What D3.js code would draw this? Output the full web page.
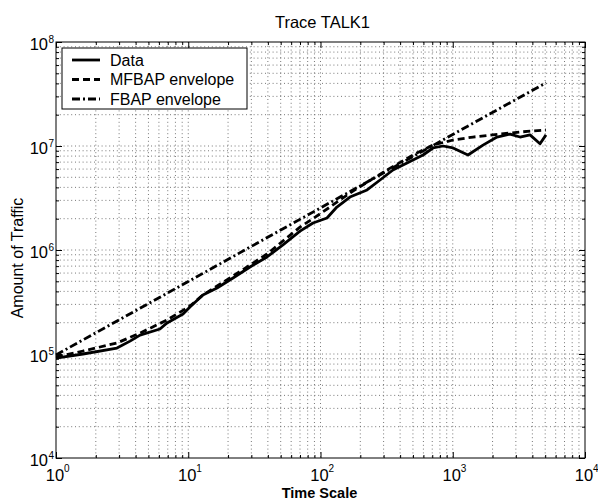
<!DOCTYPE html>
<html><head><meta charset="utf-8">
<script src="https://cdn.jsdelivr.net/npm/d3@7"></script>
<style>
body{margin:0;background:#fff;}
svg{display:block;font-family:"Liberation Sans",Arial,Helvetica,sans-serif;}
</style></head>
<body><svg id="c" width="598" height="499"></svg>
<script>
const title = "Trace TALK1";
const xLabel = "Time Scale";
const yLabel = "Amount of Traffic";
const xTickExps = [0, 1, 2, 3, 4];
const yTickExps = [4, 5, 6, 7, 8];
const seriesNames = ["Data", "MFBAP envelope", "FBAP envelope"];

const dataT = [1, 1.6, 2.89, 3.63, 4.32, 6.11, 6.91, 9.13, 10.3, 12.9, 16.5, 21.8, 29.3, 39.4, 52, 70, 87.8, 112, 133, 167, 225, 282, 353, 451, 596, 709, 844, 1005, 1304, 1693, 2161, 2710, 3226, 3838, 4570, 5070];
const dataV = [9.15e4, 1.0e5, 1.14e5, 1.33e5, 1.52e5, 1.74e5, 1.99e5, 2.42e5, 2.83e5, 3.69e5, 4.31e5, 5.38e5, 6.87e5, 8.57e5, 1.12e6, 1.52e6, 1.82e6, 2.03e6, 2.59e6, 3.23e6, 3.78e6, 4.71e6, 5.88e6, 6.87e6, 8.19e6, 9.57e6, 1.0e7, 9.57e6, 8.19e6, 1.02e7, 1.22e7, 1.30e7, 1.22e7, 1.28e7, 1.05e7, 1.28e7];

const mfbapT = [1, 1.6, 2.89, 4.32, 6.91, 10.3, 12.9, 21.8, 39.4, 70, 99, 176, 318, 500, 709, 1005, 1422, 2277, 3226, 5070];
const mfbapV = [9.36e4, 1.068e5, 1.276e5, 1.59e5, 2.12e5, 2.89e5, 3.69e5, 5.62e5, 9.15e5, 1.66e6, 2.22e6, 3.69e6, 5.88e6, 8.19e6, 1.022e7, 1.142e7, 1.22e7, 1.30e7, 1.364e7, 1.425e7];

const fbapT = [1, 10, 100, 1000, 5070];
const fbapV = [9.8e4, 4.98e5, 2.54e6, 1.29e7, 4.05e7];

const svg = d3.select("#c");
const L = 56, R = 585, T = 42, B = 458;
const x = d3.scaleLog().domain([1, 1e4]).range([L, R]);
const y = d3.scaleLog().domain([1e4, 1e8]).range([B, T]);

const xMinor = [], yMinor = [];
for (let e = 0; e < 4; e++) for (let m = 2; m <= 9; m++) xMinor.push(m * Math.pow(10, e));
for (let e = 4; e < 8; e++) for (let m = 2; m <= 9; m++) yMinor.push(m * Math.pow(10, e));
const xMajor = xTickExps.map(e => Math.pow(10, e));
const yMajor = yTickExps.map(e => Math.pow(10, e));

const grid = svg.append("g").attr("stroke", "#555").attr("stroke-width", 0.8).attr("stroke-dasharray", "1,2.8");
xMinor.concat(xMajor.slice(1, -1)).forEach(v => {
  grid.append("line").attr("x1", x(v)).attr("x2", x(v)).attr("y1", T).attr("y2", B);
});
yMinor.concat(yMajor.slice(1, -1)).forEach(v => {
  grid.append("line").attr("y1", y(v)).attr("y2", y(v)).attr("x1", L).attr("x2", R);
});

function tickAxis(axisGen, transform, vals, size) {
  const g = svg.append("g").attr("transform", transform)
    .call(axisGen.tickValues(vals).tickSize(size).tickFormat(""));
  g.select(".domain").remove();
  g.selectAll("line").attr("stroke", "#000").attr("stroke-width", 1);
}
tickAxis(d3.axisTop(x), `translate(0,${B})`, xMajor, 6);
tickAxis(d3.axisTop(x), `translate(0,${B})`, xMinor, 3);
tickAxis(d3.axisBottom(x), `translate(0,${T})`, xMajor, 6);
tickAxis(d3.axisBottom(x), `translate(0,${T})`, xMinor, 3);
tickAxis(d3.axisRight(y), `translate(${L},0)`, yMajor, 6);
tickAxis(d3.axisRight(y), `translate(${L},0)`, yMinor, 3);
tickAxis(d3.axisLeft(y), `translate(${R},0)`, yMajor, 6);
tickAxis(d3.axisLeft(y), `translate(${R},0)`, yMinor, 3);

svg.append("rect").attr("x", L).attr("y", T).attr("width", R - L).attr("height", B - T)
  .attr("fill", "none").attr("stroke", "#000").attr("stroke-width", 1);

xTickExps.forEach(e => {
  const px = x(Math.pow(10, e));
  svg.append("text").attr("x", px - 1).attr("y", 481).attr("text-anchor", "middle")
    .attr("font-size", 16.5).text("10");
  svg.append("text").attr("x", px + 8).attr("y", 472).attr("font-size", 10).text(String(e));
});
yTickExps.forEach(e => {
  const py = y(Math.pow(10, e));
  svg.append("text").attr("x", 48).attr("y", py + 8).attr("text-anchor", "end")
    .attr("font-size", 16.5).text("10");
  svg.append("text").attr("x", 48.5).attr("y", py + 1).attr("font-size", 10).text(String(e));
});

const line = d3.line().x(d => x(d[0])).y(d => y(d[1]));
const styles = [
  {dash: null},
  {dash: "7,4"},
  {dash: "8,3,2,3"}
];
const series = [
  d3.zip(dataT, dataV),
  d3.zip(mfbapT, mfbapV),
  d3.zip(fbapT, fbapV)
];
series.forEach((s, i) => {
  svg.append("path").attr("d", line(s)).attr("fill", "none").attr("stroke", "#000")
    .attr("stroke-width", 2.8).attr("stroke-linejoin", "round")
    .attr("stroke-dasharray", styles[i].dash);
});

svg.append("text").attr("x", (L + R) / 2 + 2).attr("y", 27.5).attr("text-anchor", "middle")
  .attr("font-size", 16.5).text(title);
svg.append("text").attr("x", (L + R) / 2 - 1).attr("y", 497.5).attr("text-anchor", "middle")
  .attr("font-size", 14.5).attr("font-weight", "bold").text(xLabel);
svg.append("text").attr("transform", `translate(23,${(T + B) / 2 + 8}) rotate(-90)`)
  .attr("text-anchor", "middle").attr("font-size", 16).text(yLabel);

const lg = svg.append("g");
lg.append("rect").attr("x", 62).attr("y", 48).attr("width", 185).attr("height", 61)
  .attr("fill", "#fff").attr("stroke", "#000").attr("stroke-width", 1);
seriesNames.forEach((n, i) => {
  const yy = 60 + i * 19.5;
  lg.append("line").attr("x1", 72).attr("x2", 100).attr("y1", yy).attr("y2", yy)
    .attr("stroke", "#000").attr("stroke-width", 2.8).attr("stroke-dasharray", styles[i].dash);
  lg.append("text").attr("x", 110).attr("y", yy + 5.5).attr("font-size", 16).text(n);
});
</script></body></html>
